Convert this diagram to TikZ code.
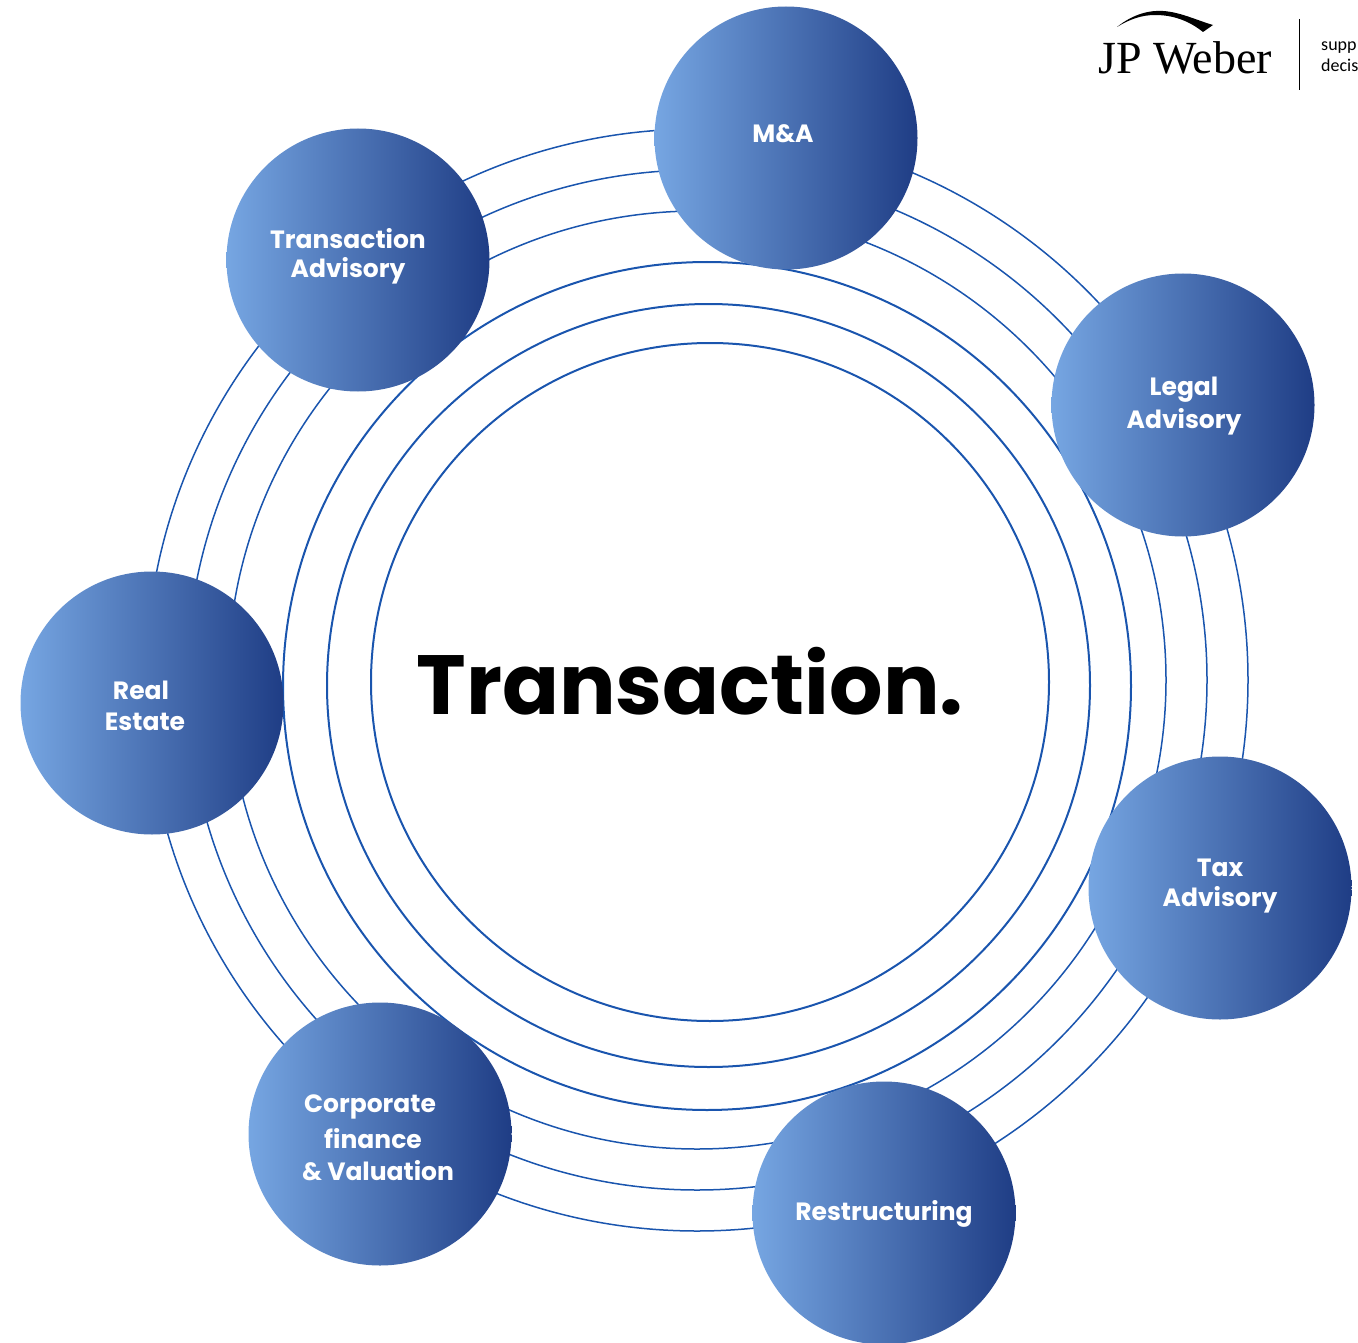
\documentclass[tikz,border=0pt]{standalone}
\usepackage{fontspec}
\setmainfont{Poppins}
\newfontfamily\logofont{Liberation Serif}
\newfontfamily\tagfont{Carlito}
\definecolor{ringblue}{HTML}{1A55AE}
\definecolor{balllight}{HTML}{76A6E2}
\definecolor{balldark}{HTML}{1F3D85}
\tikzset{
ring/.style={draw=ringblue,line width=2pt},
thin ring/.style={draw=ringblue,line width=1.5pt},
ball/.style={circle,minimum size=263pt,inner sep=0pt,shade,shading=axis,left color=balllight,right color=balldark,shading angle=90},
lbl/.style={text=white,font=\fontsize{25}{30}\selectfont\bfseries,inner sep=0pt},
}
\begin{document}
\begin{tikzpicture}[x=1pt,y=-1pt]
\useasboundingbox (0,0) rectangle (1358,1343);
\coordinate (inner) at (708,684);
\coordinate (outer) at (697,680);

% rings
\draw[ring] (710,682) circle (339pt);
\draw[ring] (708.5,685.5) circle (381.5pt);
\draw[ring] (707,686) circle (424pt);
\draw[thin ring] (outer) circle (469pt);
\draw[thin ring] (outer) circle (510pt);
\draw[thin ring] (outer) circle (551pt);

% balls
\node[ball] (ma)    at (786,138)  {};
\node[ball] (trans) at (358,260)  {};
\node[ball] (legal) at (1183,405) {};
\node[ball] (tax)   at (1220,888) {};
\node[ball] (restr) at (884,1213) {};
\node[ball] (corp)  at (380,1134) {};
\node[ball] (real)  at (152,703)  {};

% labels
\node[lbl] (ma1)    at (783,134)  {M\&A};
\node[lbl] (trans1) at (348,239)  {Transaction};
\node[lbl] (trans2) at (348,271)  {Advisory};
\node[lbl] (legal1) at (1184,390) {Legal};
\node[lbl] (legal2) at (1184,422) {Advisory};
\node[lbl] (tax1)   at (1220,868) {Tax};
\node[lbl] (tax2)   at (1220,900) {Advisory};
\node[lbl] (restr1) at (884,1214) {Restructuring};
\node[lbl] (corp1)  at (370,1107) {Corporate};
\node[lbl] (corp2)  at (373,1139) {finance};
\node[lbl] (corp3)  at (378,1171) {\& Valuation};
\node[lbl] (real1)  at (141,690)  {Real};
\node[lbl] (real2)  at (145,722)  {Estate};

\node[font=\fontsize{84}{100}\selectfont\bfseries,inner sep=0pt] (title) at (690,681) {Transaction.};

% logo
\node[font=\logofont\fontsize{46}{50}\selectfont,anchor=base west,inner sep=0pt] (logo) at (1098,74) {JP Weber};
\fill (1117,27) .. controls (1133,14) and (1150,10) .. (1163,11)
  .. controls (1180,12) and (1196,20) .. (1213,25)
  -- (1203,32) .. controls (1188,20) and (1172,15) .. (1155,15)
  .. controls (1142,15) and (1130,19) .. (1117,27) -- cycle;
\coordinate (bar top) at (1299.5,19);
\coordinate (bar end) at (1299.5,90);
\draw[line width=1.2pt] (bar top) -- (bar end);
\node[font=\tagfont\fontsize{18}{20}\selectfont,anchor=base west,inner sep=0pt] (tag1) at (1321,51) {supp};
\node[font=\tagfont\fontsize{18}{20}\selectfont,anchor=base west,inner sep=0pt] (tag2) at (1321,72) {decis};
\end{tikzpicture}
\end{document}
